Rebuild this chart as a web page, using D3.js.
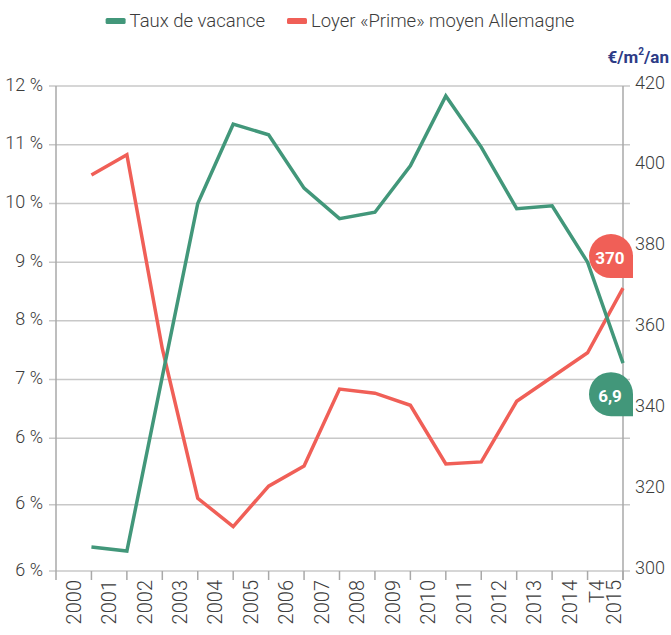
<!DOCTYPE html>
<html>
<head>
<meta charset="utf-8">
<style>
    body { margin: 0; background: #fff; }
    svg { font-family: Roboto, 'Open Sans', sans-serif; }
    .lab { fill: #3c3c3c; font-weight: 300; }
</style>
</head>
<body>
<svg width="671" height="635"></svg>

<script src="https://d3js.org/d3.v7.min.js"></script>
<script>
    // data
    let years = ["2000", "2001", "2002", "2003", "2004", "2005", "2006", "2007", "2008",
        "2009", "2010", "2011", "2012", "2013", "2014", "T4 2015"];
    let vacancy = [4.36, 4.30, 7.05, 10.0, 11.35, 11.17, 10.26, 9.74, 9.85, 10.64, 11.83, 10.96, 9.91, 9.96, 9.0, 7.28];
    let rent = [398, 403, 355, 318, 311, 321, 326, 345, 344, 341, 326.5, 327, 342, 348, 354, 370];
    let leftTicks = [12, 11, 10, 9, 8, 7, 6, 5, 4];
    let leftLabels = ["12 %", "11 %", "10 %", "9 %", "8 %", "7 %", "6 %", "6 %", "6 %"];
    let rightTicks = [420, 400, 380, 360, 340, 320, 300];
    let seriesNames = ["Taux de vacance", "Loyer «Prime» moyen Allemagne"];
    let badgeTexts = ["6,9", "370"];

    let green = "#42977a";
    let red = "#f05f57";

    let svg = d3.select("svg");

    let x = d3.scaleBand().domain(years).range([56, 623]).padding(0);
    let bw = x.bandwidth();
    // points sit on the right edge of each label band
    let px = d => x(d) + bw;

    // left scale is squeezed differently under 6 %
    let yL = d3.scaleLinear().domain([12, 6, 4]).range([86, 438.3, 571]);
    let yR = d3.scaleLinear().domain([420, 300]).range([86, 571]);

    // gridlines
    svg.append("g")
        .selectAll("line")
        .data(leftTicks)
        .join("line")
        .attr("x1", 49).attr("x2", 630)
        .attr("y1", d => yL(d)).attr("y2", d => yL(d))
        .style("stroke", "#c8c8c8")
        .style("stroke-width", 1.5);

    // axes lines
    svg.append("line")
        .attr("x1", 56).attr("x2", 56).attr("y1", yL(12)).attr("y2", 580)
        .style("stroke", "#a9a9a9").style("stroke-width", 1.5);
    svg.append("line")
        .attr("x1", 623).attr("x2", 623).attr("y1", yL(12)).attr("y2", 580)
        .style("stroke", "#a9a9a9").style("stroke-width", 1.5);

    // x ticks at band edges
    svg.append("g")
        .selectAll("line")
        .data(years)
        .join("line")
        .attr("x1", d => px(d)).attr("x2", d => px(d))
        .attr("y1", yL(4)).attr("y2", 580)
        .style("stroke", "#a9a9a9").style("stroke-width", 1.5);

    // left labels
    svg.append("g")
        .selectAll("text")
        .data(leftTicks)
        .join("text")
        .attr("class", "lab")
        .attr("x", 43)
        .attr("y", d => yL(d) - 2)
        .attr("text-anchor", "end")
        .attr("dominant-baseline", "central")
        .style("font-size", "18px")
        .text((d, i) => leftLabels[i]);

    // right labels
    svg.append("g")
        .selectAll("text")
        .data(rightTicks)
        .join("text")
        .attr("class", "lab")
        .attr("x", 635)
        .attr("y", d => yR(d) - 4)
        .attr("dominant-baseline", "central")
        .style("font-size", "18px")
        .text(d => d);

    svg.append("text")
        .attr("x", 669)
        .attr("y", 57)
        .attr("text-anchor", "end")
        .attr("dominant-baseline", "central")
        .style("font-size", "17px")
        .style("font-weight", "bold")
        .style("fill", "#2d3b86")
        .html("€/m<tspan dy='-6' font-size='10px'>2</tspan><tspan dy='6'>/an</tspan>");

    // x labels, rotated
    let xl = svg.append("g")
        .selectAll("text")
        .data(years)
        .join("text")
        .attr("class", "lab")
        .attr("transform", d => "translate(" + (x(d) + bw / 2) + ",580) rotate(-90)")
        .attr("text-anchor", "end")
        .attr("dominant-baseline", "central")
        .style("font-size", "20px");
    xl.each(function (d) {
        let parts = d.split(" ");
        let t = d3.select(this);
        parts.forEach((p, i) => {
            t.append("tspan")
                .attr("x", 0)
                .attr("y", (i - (parts.length - 1) / 2) * 17)
                .text(p);
        });
    });

    // lines
    let lineL = d3.line().x((d, i) => px(years[i])).y(d => yL(d));
    let lineR = d3.line().x((d, i) => px(years[i])).y(d => yR(d));

    svg.append("path")
        .datum(rent)
        .attr("d", lineR)
        .style("fill", "none")
        .style("stroke", red)
        .style("stroke-width", 3.5);

    svg.append("path")
        .datum(vacancy)
        .attr("d", lineL)
        .style("fill", "none")
        .style("stroke", green)
        .style("stroke-width", 3.5);

    // end badges (circle with a square bottom-right corner)
    function badge(cx, cy, r) {
        return "M" + (cx - r) + "," + cy +
            " A" + r + "," + r + " 0 0 1 " + cx + "," + (cy - r) +
            " A" + r + "," + r + " 0 0 1 " + (cx + r) + "," + cy +
            " L" + (cx + r) + "," + (cy + r) +
            " L" + cx + "," + (cy + r) +
            " A" + r + "," + r + " 0 0 1 " + (cx - r) + "," + cy + " Z";
    }
    let last = years[years.length - 1];
    let badges = [
        { cx: px(last) - 12, cy: yL(vacancy[vacancy.length - 1]) + 31, color: green, text: badgeTexts[0] },
        { cx: px(last) - 12, cy: yR(rent[rent.length - 1]) - 32, color: red, text: badgeTexts[1] }
    ];
    svg.append("g")
        .selectAll("path")
        .data(badges)
        .join("path")
        .attr("d", d => badge(d.cx, d.cy, 22))
        .style("fill", d => d.color);
    svg.append("g")
        .selectAll("text")
        .data(badges)
        .join("text")
        .attr("x", d => d.cx - 1)
        .attr("y", d => d.cy + 2)
        .attr("text-anchor", "middle")
        .attr("dominant-baseline", "central")
        .style("fill", "#fff")
        .style("font-size", "17px")
        .style("font-weight", "bold")
        .text(d => d.text);

    // legend
    let legend = svg.append("g");
    let lx = 0;
    seriesNames.forEach((name, i) => {
        let g = legend.append("g").attr("transform", "translate(" + lx + ",0)");
        g.append("rect")
            .attr("x", 0).attr("y", -3)
            .attr("width", 20).attr("height", 6)
            .attr("rx", 1.5)
            .style("fill", i === 0 ? green : red);
        let t = g.append("text")
            .attr("class", "lab")
            .attr("x", 24)
            .attr("y", 0)
            .attr("dominant-baseline", "central")
            .style("font-size", "18.5px")
            .text(name);
        lx += 24 + t.node().getComputedTextLength() + 22;
    });
    let lw = lx - 22;
    legend.attr("transform", "translate(" + (340 - lw / 2) + ",21)");
</script>
</body>
</html>
